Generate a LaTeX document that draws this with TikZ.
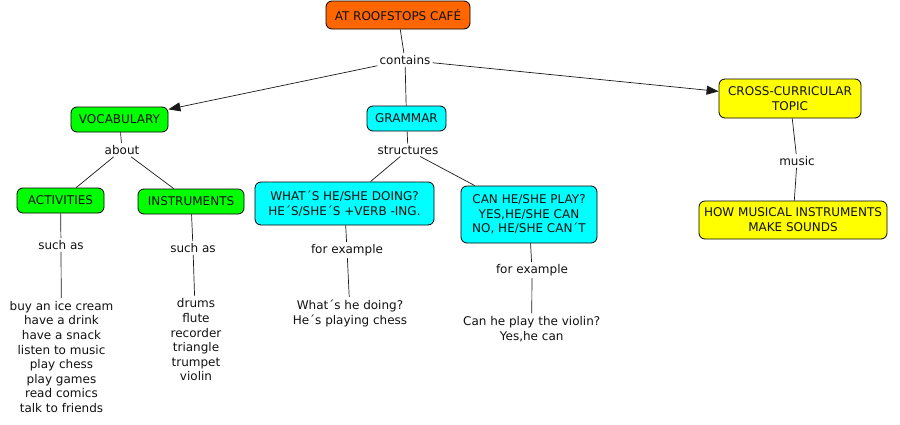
\documentclass[tikz,border=0pt]{standalone}
\usepackage{fontspec}
\setmainfont{DejaVu Sans}
\usetikzlibrary{arrows.meta}
\definecolor{corange}{HTML}{FF6600}
\definecolor{cgreen}{HTML}{00FF00}
\definecolor{ccyan}{HTML}{00FFFF}
\definecolor{cyellow}{HTML}{FFFF00}
\definecolor{ctext}{HTML}{111111}
\tikzset{
  concept/.style={draw=black, line width=0.8pt, rounded corners=6pt, inner sep=0pt, align=center, text=ctext,
    font=\fontsize{12}{14.8}\selectfont},
  linklabel/.style={inner sep=2pt, align=center, text=ctext, font=\fontsize{12}{14.6}\selectfont},
  listtext/.style={inner sep=3pt, align=center, text=ctext, font=\fontsize{12}{14.6}\selectfont},
  conn/.style={draw=black!90, line width=0.7pt},
  arr/.style={conn, -{Triangle[length=12pt,width=9pt]}}
}
\begin{document}
\begin{tikzpicture}[x=1pt,y=-1pt]
\useasboundingbox (0,0) rectangle (900,424);
% concepts
\node[concept, fill=corange, minimum width=144pt, minimum height=28pt] (root) at (398,15) {AT ROOFSTOPS CAFÉ};
\node[concept, fill=cgreen, minimum width=97pt, minimum height=25pt] (vocab) at (119.5,119.5) {VOCABULARY};
\node[concept, fill=ccyan, minimum width=79pt, minimum height=25pt] (gram) at (406.5,118.5) {GRAMMAR};
\node[concept, fill=cyellow, minimum width=142pt, minimum height=39pt] (cross) at (790,98.5) {CROSS-CURRICULAR\\TOPIC};
\node[concept, fill=cgreen, minimum width=87pt, minimum height=25pt] (act) at (60.5,200.5) {ACTIVITIES};
\node[concept, fill=cgreen, minimum width=106pt, minimum height=25pt] (inst) at (191,201.5) {INSTRUMENTS};
\node[concept, fill=ccyan, minimum width=179pt, minimum height=43pt] (what) at (344.5,203.5) {WHAT´S HE/SHE DOING?\\HE´S/SHE´S +VERB -ING.};
\node[concept, fill=ccyan, minimum width=136pt, minimum height=57pt, font=\fontsize{12}{14.5}\selectfont] (can) at (529,214.5) {CAN HE/SHE PLAY?\\YES,HE/SHE CAN\\NO, HE/SHE CAN´T};
\node[concept, fill=cyellow, minimum width=188pt, minimum height=38pt] (how) at (793,220) {HOW MUSICAL INSTRUMENTS\\MAKE SOUNDS};
% link labels
\node[linklabel] (contains) at (405,60) {contains};
\node[linklabel] (about) at (122,150) {about};
\node[linklabel] (struct) at (408,150) {structures};
\node[linklabel] (such1) at (61,245) {such as};
\node[linklabel] (such2) at (193,248) {such as};
\node[linklabel] (forex1) at (347,250) {for example};
\node[linklabel] (forex2) at (532,270) {for example};
\node[linklabel] (music) at (797,161) {music};
% lists
\node[listtext] (list1) at (61.5,357) {buy an ice cream\\have a drink\\have a snack\\listen to music\\play chess\\play games\\read comics\\talk to friends};
\node[listtext] (list2) at (196,340) {drums\\flute\\recorder\\triangle\\trumpet\\violin};
\node[listtext] (ex1) at (350,313.5) {What´s he doing?\\He´s playing chess};
\node[listtext] (ex2) at (531.7,329) {Can he play the violin?\\Yes,he can};
% connectors
\draw[conn] (root) -- (contains);
\draw[arr] (contains) -- (vocab);
\draw[conn] (contains) -- (gram);
\draw[arr] (contains) -- (cross);
\draw[conn] (vocab) -- (about);
\draw[conn] (about) -- (act);
\draw[conn] (about) -- (inst);
\draw[conn] (act) -- (such1);
\draw[conn] (such1) -- (list1);
\draw[conn] (inst) -- (such2);
\draw[conn] (such2) -- (list2);
\draw[conn] (gram) -- (struct);
\draw[conn] (struct) -- (what);
\draw[conn] (struct) -- (can);
\draw[conn] (what) -- (forex1);
\draw[conn] (forex1) -- (ex1);
\draw[conn] (can) -- (forex2);
\draw[conn] (forex2) -- (ex2);
\draw[conn] (cross) -- (music);
\draw[conn] (music) -- (how);
\end{tikzpicture}
\end{document}
